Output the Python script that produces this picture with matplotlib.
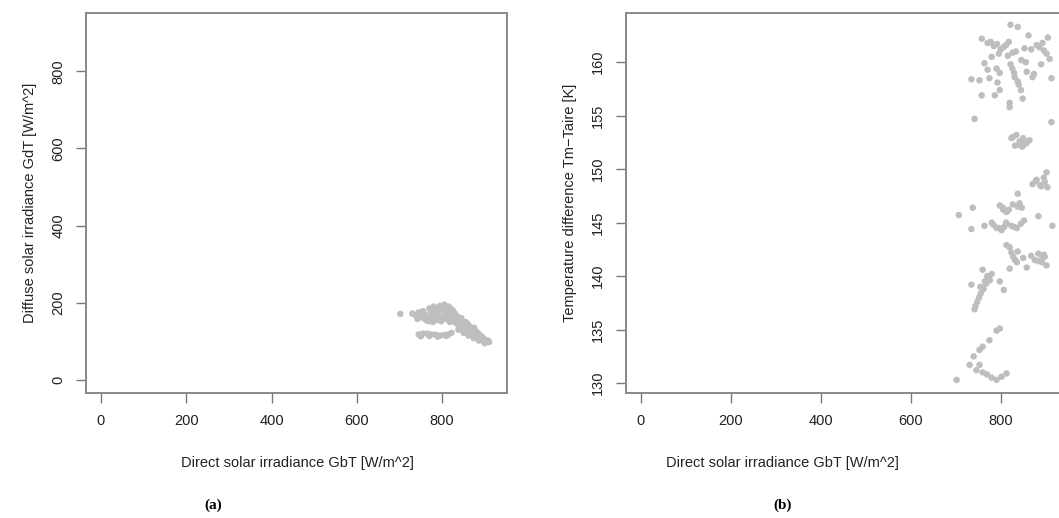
import matplotlib.pyplot as plt

plt.rcParams['font.family'] = ['Liberation Sans', 'DejaVu Sans']

# direct irradiance vs diffuse irradiance
gbt_a = [702, 730, 738, 745, 750, 755, 760, 765, 770, 775, 780, 785, 790, 795, 800,
         805, 810, 815, 820, 825, 830, 742, 752, 762, 772, 782, 792, 802, 812, 822,
         768, 778, 788, 798, 808, 818, 828, 835, 840, 845, 848, 852, 855, 860, 865,
         870, 875, 880, 885, 890, 895, 900, 905, 910, 898, 890, 882, 875, 868, 860,
         852, 845, 838, 832, 826, 838, 850, 862, 874, 886, 900, 908,
         745, 755, 765, 775, 785, 795, 805, 815, 822, 750, 770, 790, 810,
         788, 798, 808, 818, 778, 812, 826, 842, 856, 866, 878, 892, 862, 872, 884, 896]
gdt_a = [171, 172, 168, 175, 165, 178, 170, 160, 185, 175, 190, 182, 170, 192, 188,
         195, 178, 190, 185, 180, 172, 158, 162, 155, 165, 158, 160, 165, 168, 160,
         152, 150, 155, 152, 158, 150, 160, 165, 155, 160, 148, 140, 150, 145, 138,
         130, 135, 125, 120, 115, 110, 105, 100, 98, 98, 105, 110, 118, 122, 128,
         132, 138, 142, 148, 152, 130, 122, 115, 108, 102, 95, 102,
         118, 120, 120, 118, 117, 115, 116, 118, 122, 113, 114, 112, 114,
         178, 182, 172, 176, 168, 186, 166, 148, 135, 128, 122, 112, 140, 132, 118, 106]

# direct irradiance vs temperature difference
gbt_b = [822, 838, 758, 862, 905, 771, 785, 800, 812, 827, 853, 880, 893, 902, 909,
         764, 771, 791, 798, 735, 753, 775, 793, 816, 822, 830, 838, 845, 849, 831,
         858, 871, 913, 758, 787, 798, 820, 820, 742, 913,
         827, 835, 842, 850, 857, 864, 832, 848,
         902, 871, 880, 890, 898, 904, 838, 738, 805,
         798, 806, 813, 827, 842, 847, 707, 884, 915, 735, 764, 780, 791, 802, 813, 824, 808,
         813, 820, 824, 828, 832, 836, 820, 858, 868, 876, 884, 892, 898, 902,
         735, 780, 774, 768, 762, 756, 752, 748, 744, 742, 765, 755, 798, 807,
         798, 791, 775, 760, 753, 740, 731, 753, 746, 760, 770, 780, 791, 802, 813, 702,
         # extra points in the dense groups
         778, 792, 806, 818, 834, 846, 868, 886, 896, 780, 796, 826, 840, 856, 874, 890,
         845, 824, 842, 812, 836, 845, 852, 838, 850, 884, 892, 896,
         784, 796, 818, 830, 838, 878, 888, 896, 770, 776, 760]
dt_b = [163.5, 163.3, 162.2, 162.5, 162.3, 161.8, 161.5, 161.2, 161.6, 160.9, 161.3, 161.6, 161.8, 160.8, 160.3,
        159.9, 159.3, 159.4, 159.0, 158.4, 158.3, 158.5, 158.1, 160.6, 159.8, 159.0, 158.2, 157.4, 156.6, 158.6,
        159.1, 158.6, 158.5, 156.9, 156.9, 157.4, 156.2, 155.8, 154.7, 154.4,
        153.0, 153.2, 152.6, 152.9, 152.4, 152.7, 152.2, 152.1,
        149.7, 148.6, 149.0, 148.4, 148.8, 148.3, 147.7, 146.4, 146.4,
        146.6, 146.2, 146.0, 146.7, 146.8, 146.4, 145.7, 145.6, 144.7, 144.4, 144.7, 145.0, 144.5, 144.3, 144.9, 144.7, 144.6,
        142.9, 142.7, 142.2, 141.8, 141.5, 141.3, 140.7, 140.8, 141.9, 141.5, 142.1, 141.3, 141.8, 141.0,
        139.2, 140.2, 139.8, 139.3, 138.8, 138.4, 138.0, 137.6, 137.2, 136.9, 139.5, 139.0, 139.5, 138.7,
        135.1, 134.9, 134.0, 133.4, 133.1, 132.5, 131.7, 131.7, 131.2, 131.0, 130.8, 130.5, 130.3, 130.6, 130.9, 130.3,
        161.9, 161.7, 161.4, 161.9, 161.0, 160.2, 161.2, 161.4, 161.1, 160.5, 160.8, 159.4, 157.9, 160.0, 158.9, 159.8,
        152.5, 152.9, 152.3, 145.0, 144.5, 144.9, 145.2, 142.3, 141.7, 141.4, 141.6, 142.0,
        144.8, 144.5, 146.2, 144.6, 146.5, 148.9, 148.5, 149.2, 140.0, 139.6, 140.6]

x_ticks = [0, 200, 400, 600, 800]
ya_ticks = [0, 200, 400, 600, 800]
yb_ticks = [130, 135, 140, 145, 150, 155, 160]
x_label = 'Direct solar irradiance GbT [W/m^2]'

fig = plt.figure(figsize=(10.59, 5.18), dpi=100)
axa = fig.add_axes([86 / 1059, 125 / 518, 421 / 1059, 380 / 518])
axb = fig.add_axes([626 / 1059, 125 / 518, 443 / 1059, 380 / 518])

dot = dict(s=22, c='#bebebe', edgecolors='none')
axa.scatter(gbt_a, gdt_a, **dot)
axb.scatter(gbt_b, dt_b, **dot)

axa.set_xlim(-35, 952)
axa.set_ylim(-34, 951)
axb.set_xlim(-33, 952)
axb.set_ylim(129.07, 164.6)

for ax, yt in ((axa, ya_ticks), (axb, yb_ticks)):
    ax.set_xticks(x_ticks)
    ax.set_yticks(yt)
    ax.set_yticklabels([str(v) for v in yt], rotation=90, va='center')
    ax.tick_params(direction='out', length=7, width=1, color='#777777',
                   labelsize=10.5, pad=8, labelcolor='#222222')
    for sp in ax.spines.values():
        sp.set_color('#888888')
        sp.set_linewidth(1.4)

axa.set_ylabel('Diffuse solar irradiance GdT [W/m^2]', fontsize=10.5, color='#222222', labelpad=10)
axb.set_ylabel('Temperature difference Tm\u2212Taire [K]', fontsize=10.5, color='#222222', labelpad=10)

fig.text(297 / 1059, 1 - 463 / 518, x_label, ha='center', va='center', fontsize=10.5, color='#222222')
fig.text(782 / 1059, 1 - 463 / 518, x_label, ha='center', va='center', fontsize=10.5, color='#222222')

fig.text(213 / 1059, 1 - 505 / 518, '(a)', ha='center', va='center', fontsize=11,
         family='Liberation Serif', weight='bold')
fig.text(783 / 1059, 1 - 505 / 518, '(b)', ha='center', va='center', fontsize=11,
         family='Liberation Serif', weight='bold')

fig.savefig('out.png', dpi=100)
